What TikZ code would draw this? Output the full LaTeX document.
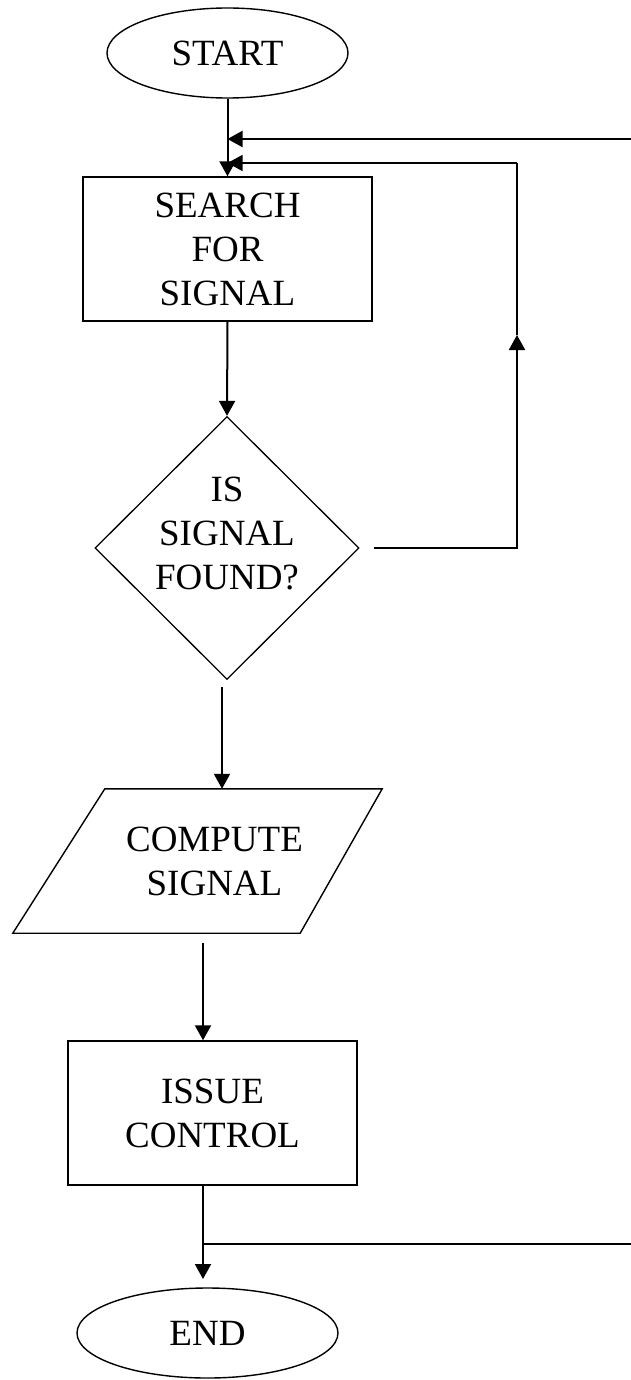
\documentclass[tikz,border=0pt]{standalone}
\usepackage{fontspec}
\setmainfont{Liberation Serif}
\usetikzlibrary{shapes.geometric,arrows.meta,calc}
\tikzset{
  lbl/.style={font=\fontsize{37}{44}\selectfont, align=center, text=black},
  term/.style={lbl, draw, ellipse, line width=1.4pt, inner sep=0pt},
  procbox/.style={lbl, draw, rectangle, line width=1.4pt, inner sep=0pt},
  decbox/.style={draw, diamond, aspect=1, line width=1.3pt, inner sep=0pt,
    minimum width=264pt, minimum height=263pt},
  iobox/.style={lbl, rectangle, inner sep=0pt, minimum width=369pt, minimum height=144pt},
  ioline/.style={line width=1.4pt, line join=miter},
  conn/.style={line width=2pt},
  thinconn/.style={line width=1.3pt},
  tip/.style={-{Triangle[length=15pt,width=16pt]}}
}
\begin{document}
\begin{tikzpicture}[x=1pt,y=-1pt]
\useasboundingbox (0,0) rectangle (631,1380);

\node[term, minimum width=241pt, minimum height=90pt] (start) at (227.5,53) {START};
\node[procbox, minimum width=289pt, minimum height=144pt] (search) at (227.5,249) {SEARCH\\FOR\\SIGNAL};
\node[decbox] (decide) at (227,548) {};
\node[lbl] (decidetext) at ($(decide.center)+(0,-14)$) {IS\\SIGNAL\\FOUND?};
\node[iobox] (comp) at (197.5,861) {\hspace*{34pt}COMPUTE\\\hspace*{34pt}SIGNAL};
\draw[ioline] ($(comp.north west)+(92,0)$) -- (comp.north east)
  -- ($(comp.south east)+(-82,0)$) -- (comp.south west) -- cycle;
\node[procbox, minimum width=289pt, minimum height=144pt] (issue) at (212.5,1113) {ISSUE\\CONTROL};
\node[term, minimum width=261pt, minimum height=90pt] (end) at (207.5,1333) {END};

% start -> search
\draw[conn, tip] (start.south) -- (search.north);

% incoming connector from the right (top)
\coordinate (in1) at (631,139);
\draw[conn, tip] (in1) -- (in1 -| start.south);

% search -> decide
\draw[conn, tip] (search.south) -- (decide.north);

% decide -> loop back (no)
\coordinate (dright) at ($(decide.east)+(14,0)$);
\coordinate (loopmid) at (517,335);
\coordinate (loopc) at (517,163);
\draw[conn, tip] (dright) -| (loopmid);
\draw[thinconn] (loopmid) -- (loopc);
\draw[thinconn, tip] (loopc) -- (loopc -| start.south);

% decide -> compute
\coordinate (dbot) at ($(decide.south)+(-5,7)$);
\draw[conn, tip] (dbot) -- (dbot |- comp.north);

% compute -> issue
\coordinate (cbot) at (203,943);
\draw[conn, tip] (cbot) -- (cbot |- issue.north);

% issue -> end
\coordinate (etip) at (203,1279);
\draw[conn, tip] (cbot |- issue.south) -- (etip);

% incoming connector from the right (bottom)
\coordinate (in2) at (631,1244);
\draw[conn] (in2) -- (in2 -| cbot);
\end{tikzpicture}
\end{document}
